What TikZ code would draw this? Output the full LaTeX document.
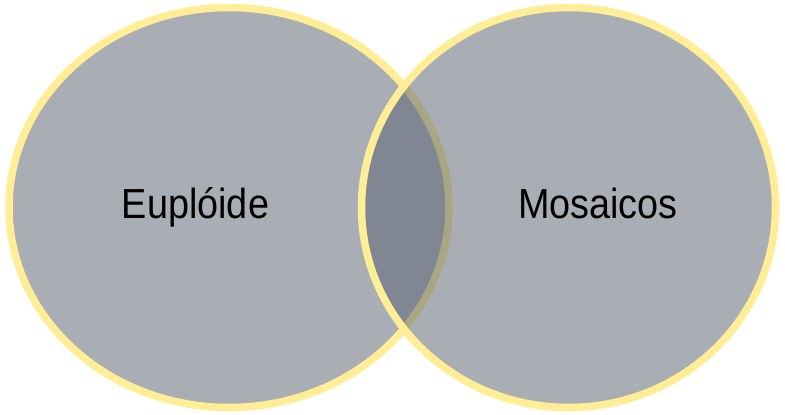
\documentclass[tikz,border=0pt]{standalone}
\usepackage{fontspec}
\newfontfamily\labelfont[FakeStretch=0.9]{Liberation Sans}
\usetikzlibrary{positioning}

\definecolor{setfill}{RGB}{91,100,114}
\definecolor{setrim}{RGB}{255,238,150}

\begin{document}
\begin{tikzpicture}[
    x=1pt, y=-1pt,
    setdisc/.style={draw=setrim, line width=7.5pt, fill=setfill, fill opacity=0.52, draw opacity=1},
    setname/.style={font=\labelfont\fontsize{42}{50}\selectfont, text=black, anchor=base, inner sep=0pt},
]

\useasboundingbox (0,0) rectangle (785,415);

%==================== SETS ====================

\draw[setdisc] (229,207.5) ellipse [x radius=220pt, y radius=200pt];
\draw[setdisc] (568.5,207.5) ellipse [x radius=207pt, y radius=200pt];

%==================== LABELS ====================

\node[setname] (euploide) at (195.5,218) {Euplóide};
\node[setname] (mosaicos) at (598,218) {Mosaicos};

\end{tikzpicture}
\end{document}
